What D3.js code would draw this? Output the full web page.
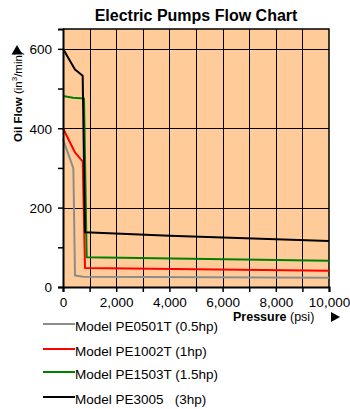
<!DOCTYPE html>
<html>
<head>
<meta charset="utf-8">
<script src="https://cdn.jsdelivr.net/npm/d3@7"></script>
<style>
html,body{margin:0;padding:0;background:#fff;}
svg{display:block;font-family:"Liberation Sans",Arial,sans-serif;}
</style>
</head>
<body>
<svg id="chart" width="350" height="409"></svg>
<script>
// ---- data ----
const seriesNames = ["Model PE0501T (0.5hp)", "Model PE1002T (1hp)", "Model PE1503T (1.5hp)", "Model PE3005   (3hp)"];
const seriesColors = ["#8c8c8c", "#ff0000", "#008000", "#000000"];
const pressure0501 = [0, 390, 451, 760, 10000];
const flow0501     = [372, 299, 29, 26, 23];
const pressure1002 = [0, 451, 740, 827, 10000];
const flow1002     = [400, 339, 316, 48, 41];
const pressure1503 = [0, 376, 790, 890, 10000];
const flow1503     = [481, 477, 475, 75, 66];
const pressure3005 = [0, 451, 740, 827, 4000, 10000];
const flow3005     = [600, 548, 532, 138, 129, 116];
const xTicks = [0, 1000, 2000, 3000, 4000, 5000, 6000, 7000, 8000, 9000, 10000];
const xLabelTicks = [0, 2000, 4000, 6000, 8000, 10000];
const yTicks = [0, 100, 200, 300, 400, 500, 600];
const yLabelTicks = [0, 200, 400, 600];
const xGrid = [1000, 2000, 3000, 4000, 5000, 6000, 7000, 8000, 9000];
const yGrid = [200, 400, 600];

const series = [
  {name: seriesNames[0], color: seriesColors[0], xs: pressure0501, ys: flow0501},
  {name: seriesNames[1], color: seriesColors[1], xs: pressure1002, ys: flow1002},
  {name: seriesNames[2], color: seriesColors[2], xs: pressure1503, ys: flow1503},
  {name: seriesNames[3], color: seriesColors[3], xs: pressure3005, ys: flow3005}
];

const svg = d3.select("#chart");
const L = 63, R = 329, T = 29, B = 287;
const x = d3.scaleLinear().domain([0, 10000]).range([L, R]);
const y = d3.scaleLinear().domain([0, 650]).range([B, T]);

// title
svg.append("text").attr("x", 196).attr("y", 20.5).attr("text-anchor", "middle")
  .attr("font-size", 16).attr("font-weight", "bold").attr("fill", "#000")
  .text("Electric Pumps Flow Chart");

// plot background
svg.append("rect").attr("x", L).attr("y", T).attr("width", R - L).attr("height", B - T)
  .attr("fill", "#ffcc99");

// grid
svg.append("g").selectAll("line").data(xGrid).join("line")
  .attr("x1", d => Math.round(x(d)) + 0.5).attr("x2", d => Math.round(x(d)) + 0.5)
  .attr("y1", T).attr("y2", B).attr("stroke", "#000").attr("stroke-width", 1);
svg.append("g").selectAll("line").data(yGrid).join("line")
  .attr("y1", d => Math.round(y(d)) + 0.5).attr("y2", d => Math.round(y(d)) + 0.5)
  .attr("x1", L).attr("x2", R).attr("stroke", "#000").attr("stroke-width", 1);

// border (top/right)
svg.append("path").attr("d", `M${L},${T}H${R}V${B}`).attr("fill", "none")
  .attr("stroke", "#000").attr("stroke-width", 1.5);

// series lines
const line = d3.line().x(d => x(d[0])).y(d => y(d[1]));
svg.append("g").selectAll("path").data(series).join("path")
  .attr("d", s => line(s.xs.map((v, i) => [v, s.ys[i]])))
  .attr("fill", "none").attr("stroke", s => s.color).attr("stroke-width", 2)
  .attr("stroke-linejoin", "round");

// axes
const xAxis = d3.axisBottom(x).tickValues(xTicks).tickSize(5)
  .tickFormat(d => xLabelTicks.includes(d) ? d3.format(",")(d) : "");
const gx = svg.append("g").attr("transform", `translate(0,${B})`).call(xAxis);
gx.select(".domain").attr("stroke", "#000").attr("stroke-width", 2);
gx.selectAll(".tick line").attr("stroke", "#000").attr("stroke-width", 1.5);
gx.selectAll(".tick text").attr("font-size", 13.5).attr("font-family", "Liberation Sans, Arial, sans-serif")
  .attr("fill", "#000").attr("y", 10).attr("dy", "0.71em");

const yAxis = d3.axisLeft(y).tickValues(yTicks).tickSize(5)
  .tickFormat(d => yLabelTicks.includes(d) ? d3.format(",")(d) : "");
const gy = svg.append("g").attr("transform", `translate(${L},0)`).call(yAxis);
gy.select(".domain").attr("stroke", "#000").attr("stroke-width", 2);
gy.selectAll(".tick line").attr("stroke", "#000").attr("stroke-width", 1.5);
gy.selectAll(".tick text").attr("font-size", 13.5).attr("font-family", "Liberation Sans, Arial, sans-serif")
  .attr("fill", "#000").attr("x", -11).attr("dy", "0.36em");

// y axis title
const yt = svg.append("text").attr("transform", "translate(21.5,142) rotate(-90)")
  .attr("font-size", 11.5).attr("fill", "#000");
yt.append("tspan").attr("font-weight", "bold").text("Oil Flow");
yt.append("tspan").text(" (in");
yt.append("tspan").attr("font-size", 8).attr("dy", -4.5).text("3");
yt.append("tspan").attr("dy", 4.5).text("/min)");
svg.append("path").attr("d", "M11.5,54.5L17,45L22.5,54.5Z").attr("fill", "#000");

// x axis title
const xt = svg.append("text").attr("x", 233).attr("y", 321).attr("font-size", 12.5).attr("fill", "#000");
xt.append("tspan").attr("font-weight", "bold").text("Pressure");
xt.append("tspan").text(" (psi)");
svg.append("path").attr("d", "M331,312L340,317L331,322Z").attr("fill", "#000");

// legend
const legendY = [324, 349, 372, 397];
const lg = svg.append("g").selectAll("g").data(series).join("g")
  .attr("transform", (d, i) => `translate(0,${legendY[i]})`);
lg.append("line").attr("x1", 43).attr("x2", 75).attr("y1", 0).attr("y2", 0)
  .attr("stroke", d => d.color).attr("stroke-width", 2);
lg.append("text").attr("x", 75).attr("y", 7).attr("font-size", 13.5).attr("fill", "#000")
  .style("white-space", "pre").text(d => d.name);
</script>
</body>
</html>
